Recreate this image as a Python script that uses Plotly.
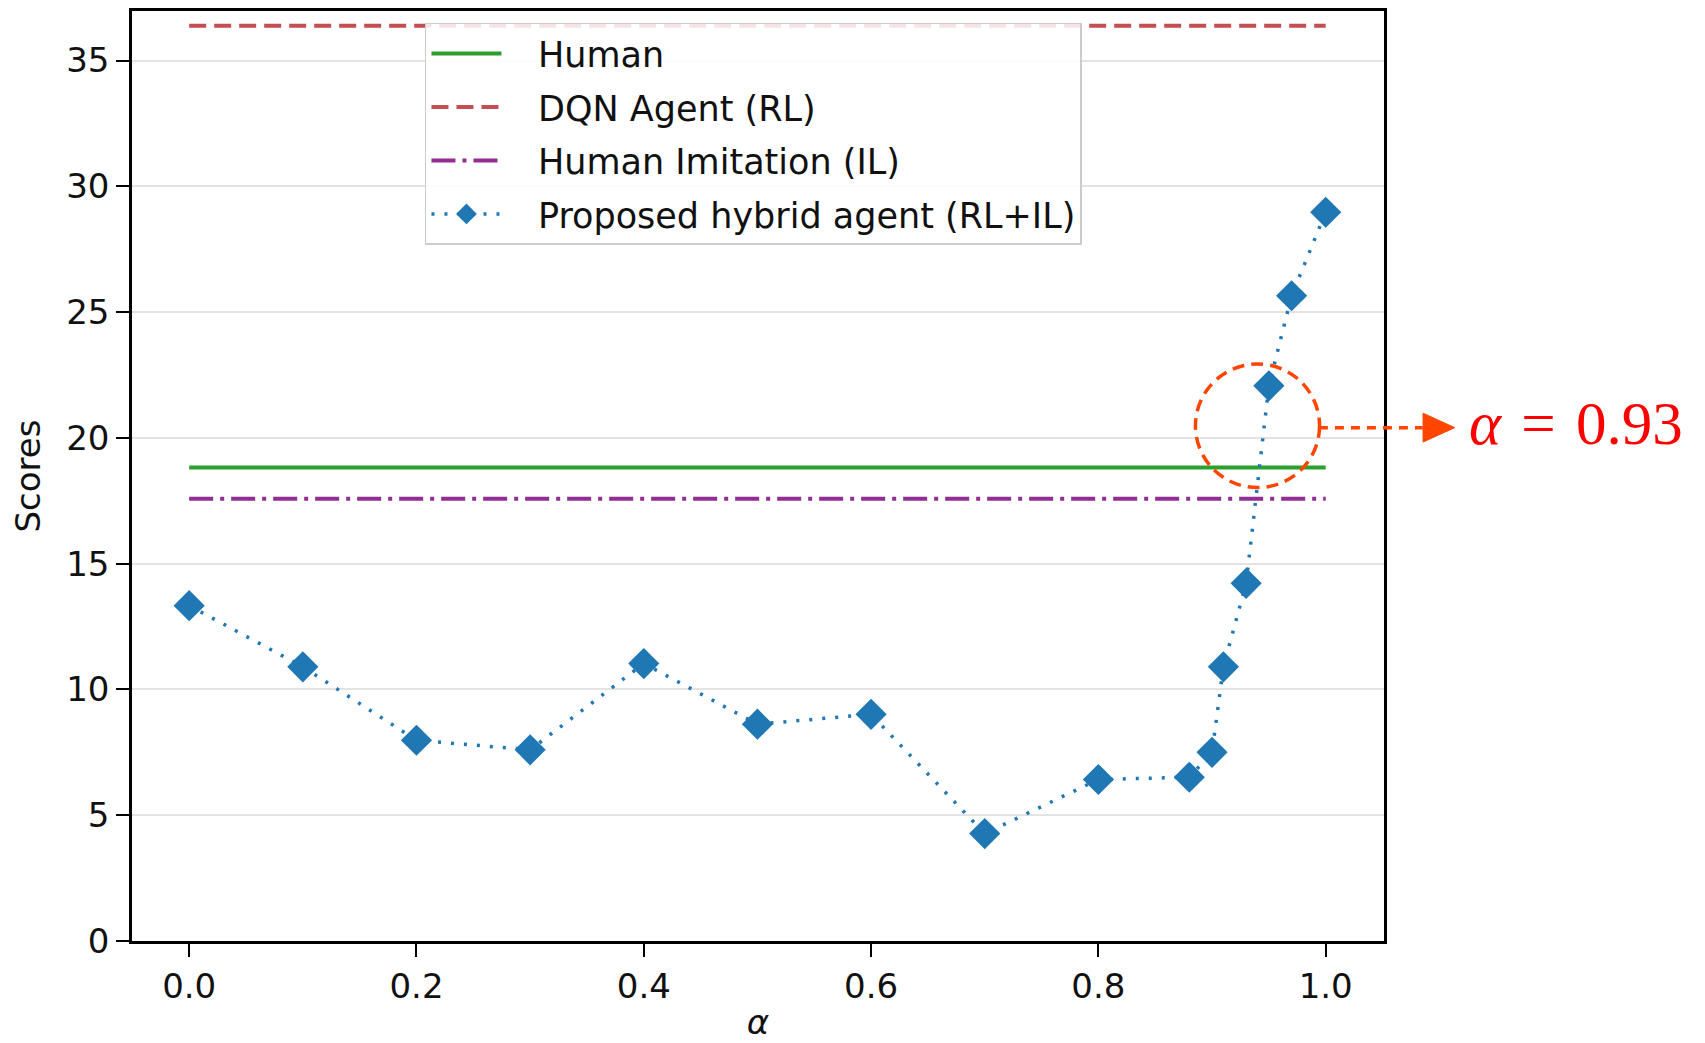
import plotly.graph_objects as go

# ---- data ----
alpha = [0.0, 0.1, 0.2, 0.3, 0.4, 0.5, 0.6, 0.7, 0.8, 0.88, 0.90, 0.91, 0.93, 0.95, 0.97, 1.0]
hybrid_scores = [13.33, 10.9, 7.98, 7.6, 11.03, 8.62, 9.01, 4.27, 6.42, 6.51, 7.5, 10.9, 14.22, 22.07, 25.65, 28.97]
baseline_x = [0.0, 1.0]
human_score = 18.82
dqn_score = 36.38
imitation_score = 17.58

y_ticks = [0, 5, 10, 15, 20, 25, 30, 35]
x_ticks = [0.0, 0.2, 0.4, 0.6, 0.8, 1.0]
x_ticklabels = ["0.0", "0.2", "0.4", "0.6", "0.8", "1.0"]

series_names = ["Human", "DQN Agent (RL)", "Human Imitation (IL)", "Proposed hybrid agent (RL+IL)"]

highlight_alpha = 0.94
highlight_score = 20.48
highlight_label = "<i>α</i>\u2004=\u20040.93"

FONT = "DejaVu Sans"
PAD = "\u2002\u2009\u2009"  # gap between legend sample and text

fig = go.Figure()
fig.add_trace(go.Scatter(x=baseline_x, y=[human_score] * 2, mode="lines", name=PAD + series_names[0],
                         legendgroup="a", line=dict(color="#2CA02C", width=4)))
fig.add_trace(go.Scatter(x=baseline_x, y=[dqn_score] * 2, mode="lines", name=PAD + series_names[1],
                         legendgroup="b", line=dict(color="#C44E52", width=4, dash="17px,8px")))
fig.add_trace(go.Scatter(x=baseline_x, y=[imitation_score] * 2, mode="lines", name=PAD + series_names[2],
                         legendgroup="c", line=dict(color="#912D93", width=4, dash="24px,7px,4px,7px")))
fig.add_trace(go.Scatter(x=alpha, y=hybrid_scores, mode="lines+markers", name=PAD + series_names[3],
                         legendgroup="d",
                         line=dict(color="#1F77B4", width=3.5, dash="3px,10px"),
                         marker=dict(symbol="diamond", size=24, color="#1F77B4")))

# highlight circle (data coords)
rx, ry = 0.0546, 2.456
fig.add_shape(type="circle", xref="x", yref="y",
              x0=highlight_alpha - rx, x1=highlight_alpha + rx,
              y0=highlight_score - ry, y1=highlight_score + ry,
              line=dict(color="#FF4500", width=3.5, dash="12px,7px"))
# dotted arrow line and head (paper coords)
ay = 0.552
fig.add_shape(type="line", xref="paper", yref="paper", x0=0.948, x1=1.031, y0=ay, y1=ay,
              line=dict(color="#FF4500", width=3.5, dash="9px,7px"))
fig.add_shape(type="path", xref="paper", yref="paper",
              path=f"M1.0312,{ay + 0.0155} L1.0565,{ay} L1.0312,{ay - 0.0155} Z",
              fillcolor="#FF4500", line=dict(color="#FF4500", width=1))
fig.add_annotation(xref="paper", yref="paper", x=1.066, y=ay + 0.004, xanchor="left", yanchor="middle",
                   text=highlight_label, showarrow=False,
                   font=dict(family="Liberation Serif", size=61, color="#FF0000"))

fig.update_layout(
    width=1705, height=1043,
    margin=dict(l=124, r=329, t=0, b=110),
    paper_bgcolor="white", plot_bgcolor="white",
    font=dict(family=FONT, size=34, color="#111111"),
    showlegend=True,
    legend=dict(x=0.234, y=0.9875, xanchor="left", yanchor="top",
                bgcolor="rgba(255,255,255,0.85)", bordercolor="#CCCCCC", borderwidth=1.5,
                font=dict(family=FONT, size=35, color="#111111"),
                tracegroupgap=5, itemwidth=70),
    xaxis=dict(range=[-0.0503, 1.0513], tickvals=x_ticks, ticktext=x_ticklabels,
               showgrid=False, zeroline=False, showline=True, linecolor="black", linewidth=2.5,
               mirror=True, ticks="outside", ticklen=13, tickwidth=1.5, tickcolor="black",
               tickfont=dict(family=FONT, size=34),
               title=dict(text="<i>α</i>", font=dict(family=FONT, size=34), standoff=6)),
    yaxis=dict(range=[0, 36.97], tickvals=y_ticks,
               showgrid=True, gridcolor="#E3E3E3", gridwidth=2, zeroline=False,
               showline=True, linecolor="black", linewidth=2.5,
               mirror=True, ticks="outside", ticklen=13, tickwidth=1.5, tickcolor="black",
               tickfont=dict(family=FONT, size=34),
               title=dict(text="Scores", font=dict(family=FONT, size=34), standoff=17)),
)

fig.write_html("out.html")
